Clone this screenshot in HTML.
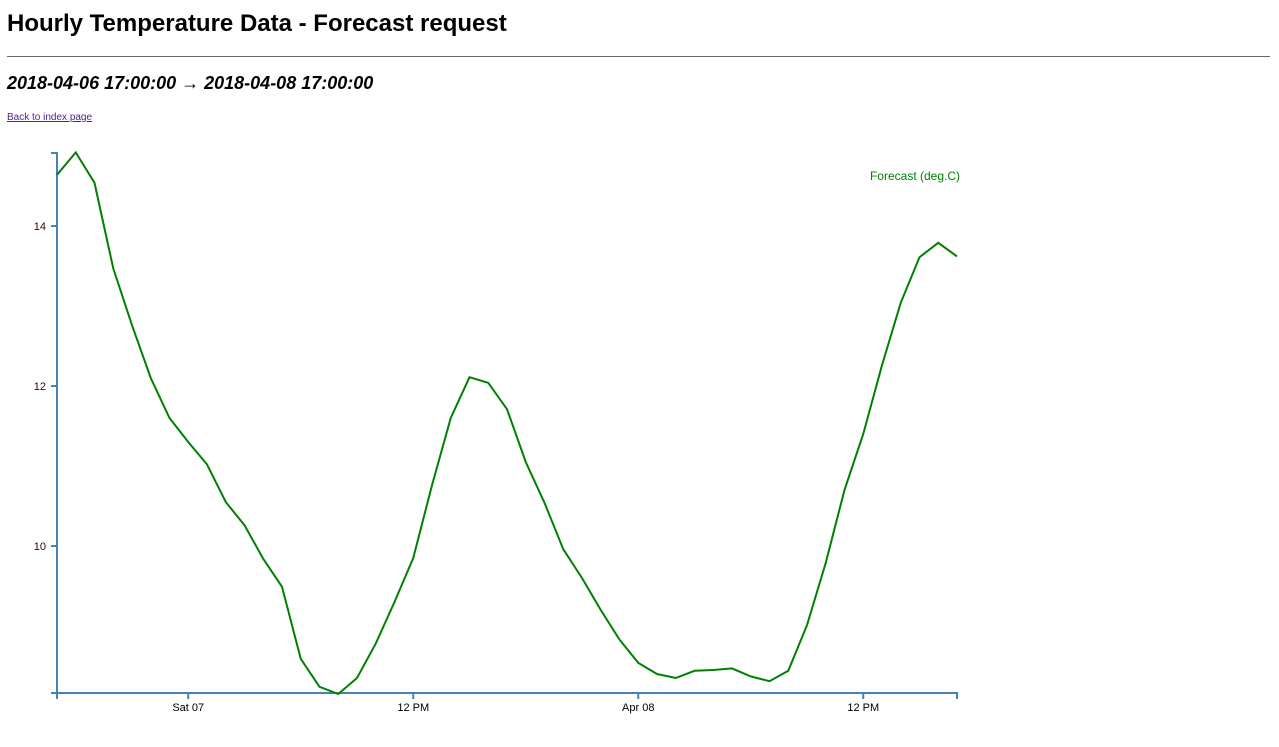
<!DOCTYPE html>
<html><head><meta charset="utf-8"><style>
body{margin:0;background:#fff;font-family:"Liberation Sans",sans-serif;}
h1{position:absolute;left:7px;top:10px;margin:0;font-size:24px;font-weight:bold;}
hr{position:absolute;left:7px;top:56px;width:1263px;margin:0;border:0;border-top:1px solid #666;}
h2{position:absolute;left:7px;top:73px;margin:0;font-size:18px;font-weight:bold;font-style:italic;}
a{position:absolute;left:7px;top:112px;font-size:10px;color:#551a8b;}
svg{position:absolute;left:0;top:0;}
</style></head><body>
<h1>Hourly Temperature Data - Forecast request</h1>
<hr>
<h2>2018-04-06 17:00:00 → 2018-04-08 17:00:00</h2>
<a href="#">Back to index page</a>
<svg id="c" width="1279" height="747"></svg>
<script>
const temps=[14.64,14.92,14.54,13.47,12.76,12.1,11.6,11.3,11.02,10.55,10.26,9.84,9.49,8.59,8.24,8.15,8.35,8.78,9.3,9.85,10.76,11.6,12.11,12.04,11.71,11.05,10.54,9.96,9.6,9.2,8.83,8.54,8.4,8.35,8.44,8.45,8.47,8.37,8.31,8.44,9.01,9.79,10.7,11.4,12.26,13.04,13.61,13.79,13.62];
const yTicks=[10,12,14];
const xTickHours=[7,19,31,43];
const xTickLabels=["Sat 07","12 PM","Apr 08","12 PM"];
const NS="http://www.w3.org/2000/svg",svg=document.getElementById('c');
const x0=57,x1=957,y0=693,yTop=153;
const X=h=>x0+h*(x1-x0)/48;
const Y=v=>386-(v-12)*80;
function el(t,a){const e=document.createElementNS(NS,t);for(const k in a)e.setAttribute(k,a[k]);svg.appendChild(e);return e;}
const ya=el('path',{d:`M51,${yTop}H57V${y0}H51`,stroke:'steelblue','stroke-width':2,fill:'none'});


yTicks.forEach(v=>{
 const l=el('line',{x1:51,x2:57,y1:Y(v),y2:Y(v),stroke:'steelblue','stroke-width':2});
 
 
 const t=el('text',{x:46,y:Y(v)+4,'text-anchor':'end','font-size':11,fill:'#400'});
 
 
 t.textContent=v;
});
const xa=el('path',{d:`M${x0},699V${y0}H${x1}V699`,stroke:'steelblue','stroke-width':2,fill:'none'});


xTickHours.forEach((h,i)=>{
 const l=el('line',{x1:X(h),x2:X(h),y1:y0,y2:699,stroke:'steelblue','stroke-width':2});
 
 
 const t=el('text',{x:X(h),y:711,'text-anchor':'middle','font-size':11,fill:'#000'});
 
 
 t.textContent=xTickLabels[i];
});
const line=el('path',{d:temps.map((v,i)=>(i?'L':'M')+X(i)+','+Y(v)).join(''),stroke:'green','stroke-width':2,fill:'none'});


const lg=el('text',{x:960,y:180,'text-anchor':'end','font-size':12,fill:'green'});


lg.textContent='Forecast (deg.C)';
</script>
</body></html>
